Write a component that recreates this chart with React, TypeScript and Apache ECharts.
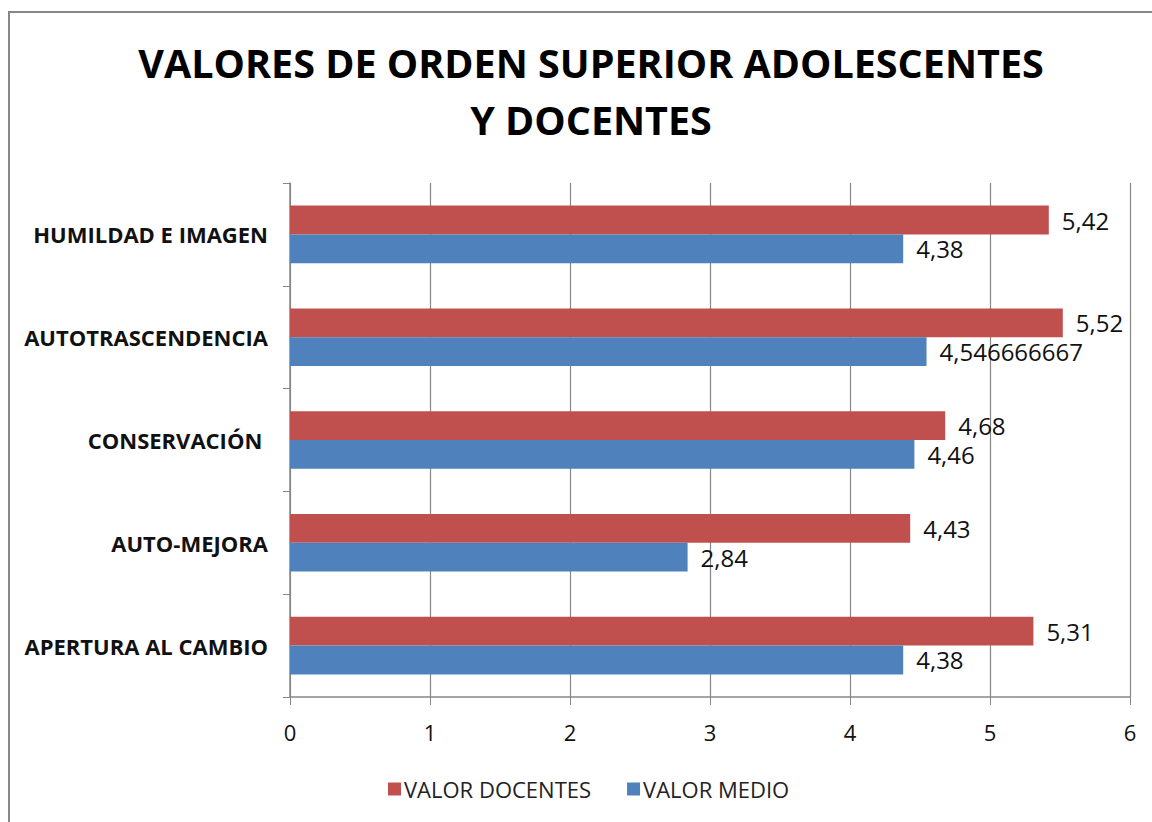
import React, { useEffect, useRef } from "react";
import * as echarts from "echarts";

const categories = [
  "APERTURA AL CAMBIO",
  "AUTO-MEJORA",
  "CONSERVACIÓN ",
  "AUTOTRASCENDENCIA",
  "HUMILDAD E IMAGEN",
];
const valorDocentes = [5.31, 4.43, 4.68, 5.52, 5.42];
const valorMedio = [4.38, 2.84, 4.46, 4.546666667, 4.38];
const xTicks = [0, 1, 2, 3, 4, 5, 6];
const titleText = "VALORES DE ORDEN SUPERIOR ADOLESCENTES\nY DOCENTES";

const FONT = "Open Sans";
const GRAY = "#878787";

export default function App() {
  const ref = useRef<HTMLDivElement>(null);
  useEffect(() => {
    if (!ref.current) return;
    const chart = echarts.init(ref.current, undefined, { renderer: "svg" });
    const fmt = (p: any) => String(p.value).replace(".", ",");
    const labelCfg = {
      show: true,
      position: "right",
      distance: 13,
      formatter: fmt,
      fontSize: 24,
      color: "#111",
      fontFamily: FONT,
    };
    chart.setOption({
      animation: false,
      backgroundColor: "#ffffff",
      textStyle: { fontFamily: FONT },
      graphic: [
        {
          type: "rect",
          shape: { x: 9, y: 12, width: 1200, height: 900 },
          style: { fill: "none", stroke: GRAY, lineWidth: 2 },
          silent: true,
        },
      ],
      title: {
        text: titleText,
        left: 586,
        textAlign: "center",
        top: 29,
        textStyle: {
          fontFamily: FONT,
          fontSize: 39.5,
          fontWeight: "bold",
          color: "#000",
          lineHeight: 57,
        },
      },
      legend: {
        data: ["VALOR DOCENTES", "VALOR MEDIO"],
        left: 383,
        top: 773,
        itemWidth: 13,
        itemHeight: 13,
        itemGap: 36,
        icon: "rect",
        textStyle: { fontFamily: FONT, fontSize: 22, color: "#222", padding: [0, 0, 0, -2] },
      },
      grid: { left: 290, right: 22, top: 183, bottom: 125 },
      xAxis: {
        type: "value",
        min: xTicks[0],
        max: xTicks[xTicks.length - 1],
        interval: 1,
        axisLine: { show: true, lineStyle: { color: GRAY, width: 1.5 } },
        axisTick: { show: true, length: 8, lineStyle: { color: GRAY } },
        axisLabel: { color: "#111", fontSize: 22, margin: 24, fontFamily: FONT },
        splitLine: { show: true, lineStyle: { color: GRAY, width: 1.2 } },
      },
      yAxis: {
        type: "category",
        data: categories,
        axisLine: { show: true, lineStyle: { color: GRAY, width: 1.5 } },
        axisTick: { show: true, length: 7, lineStyle: { color: GRAY } },
        axisLabel: {
          color: "#111",
          fontSize: 22,
          fontWeight: "bold",
          margin: 22,
          fontFamily: FONT,
        },
        splitLine: { show: false },
      },
      series: [
        {
          name: "VALOR DOCENTES",
          type: "bar",
          data: valorDocentes,
          barGap: "0%",
          barCategoryGap: "44%",
          itemStyle: { color: "#c0504d" },
          label: labelCfg,
        },
        {
          name: "VALOR MEDIO",
          type: "bar",
          data: valorMedio,
          barGap: "0%",
          barCategoryGap: "44%",
          itemStyle: { color: "#4f81bd" },
          label: labelCfg,
        },
      ],
    });
    return () => chart.dispose();
  }, []);
  return (
    <div
      ref={ref}
      style={{ position: "fixed", left: 0, top: 0, width: 1152, height: 822 }}
    />
  );
}
